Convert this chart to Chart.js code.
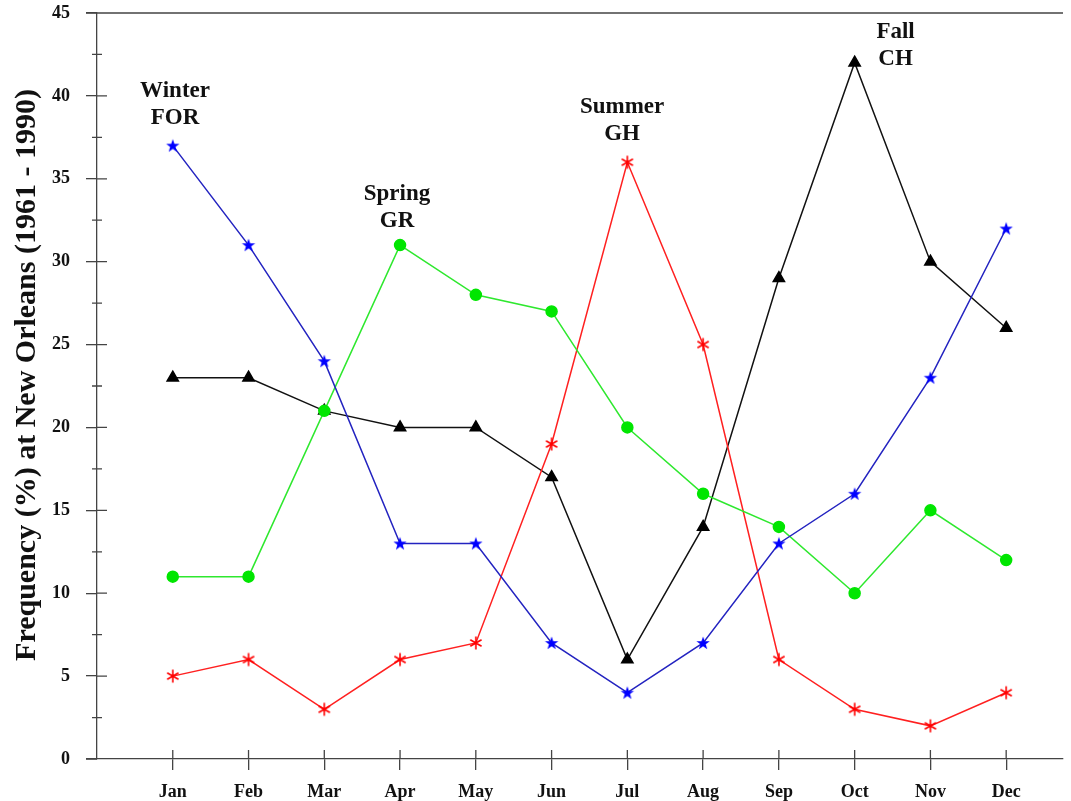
<!DOCTYPE html>
<html>
<head>
<meta charset="utf-8">
<script src="https://cdn.jsdelivr.net/npm/chart.js@4"></script>
<style>
  html, body { margin: 0; padding: 0; background: #fff; }
  #wrap { width: 1071px; height: 801px; }
</style>
</head>
<body>
<div id="wrap"><canvas id="c" width="1071" height="801"></canvas></div>
<script>
// dati
const months = ['Jan', 'Feb', 'Mar', 'Apr', 'May', 'Jun', 'Jul', 'Aug', 'Sep', 'Oct', 'Nov', 'Dec'];
const winterFOR = [37, 31, 24, 13, 13, 7, 4, 7, 13, 16, 23, 32];
const springGR = [11, 11, 21, 31, 28, 27, 20, 16, 14, 10, 15, 12];
const summerGH = [5, 6, 3, 6, 7, 19, 36, 25, 6, 3, 2, 4];
const fallCH = [23, 23, 21, 20, 20, 17, 6, 14, 29, 42, 30, 26];
const yTicks = [0, 5, 10, 15, 20, 25, 30, 35, 40, 45];
const yTitle = 'Frequency (%) at New Orleans (1961 - 1990)';

// etichette delle stagioni: [riga1, riga2, mese (x), valore (y)]
const seasonLabels = [
  ['Winter', 'FOR', 1.03, 40.3],
  ['Spring', 'GR', 3.96, 34.1],
  ['Summer', 'GH', 6.93, 39.3],
  ['Fall', 'CH', 10.54, 43.85]
];

const SERIF = '"Liberation Serif", "DejaVu Serif", serif';
const AXIS_COLOR = '#444';

// marcatori disegnati a mano
function starMarker(color) {
  const cv = document.createElement('canvas');
  cv.width = 16; cv.height = 16;
  const g = cv.getContext('2d');
  g.fillStyle = color;
  g.beginPath();
  for (let i = 0; i < 10; i++) {
    const r = i % 2 === 0 ? 7 : 2.8;
    const a = -Math.PI / 2 + i * Math.PI / 5;
    const px = 8 + r * Math.cos(a), py = 8.5 + r * Math.sin(a);
    if (i === 0) g.moveTo(px, py); else g.lineTo(px, py);
  }
  g.closePath();
  g.fill();
  return cv;
}

function asteriskMarker(color) {
  const cv = document.createElement('canvas');
  cv.width = 16; cv.height = 16;
  const g = cv.getContext('2d');
  g.strokeStyle = color;
  g.lineWidth = 1.6;
  g.beginPath();
  const r = 6.5;
  [90, 30, 150].forEach(d => {
    const a = d * Math.PI / 180;
    g.moveTo(8 - r * Math.cos(a), 8 - r * Math.sin(a));
    g.lineTo(8 + r * Math.cos(a), 8 + r * Math.sin(a));
  });
  g.stroke();
  return cv;
}

const toXY = arr => arr.map((v, i) => ({ x: i + 1, y: v }));

// assi, tacche, titolo asse y e etichette delle stagioni
const decorPlugin = {
  id: 'decor',
  afterDraw(chart) {
    const ctx = chart.ctx;
    const xs = chart.scales.x, ys = chart.scales.y;
    const area = chart.chartArea;
    ctx.save();
    ctx.strokeStyle = AXIS_COLOR;
    ctx.lineWidth = 1.3;
    ctx.beginPath();
    // linea in alto e prolungamento asse x a sinistra
    ctx.moveTo(area.left - 11, ys.getPixelForValue(45));
    ctx.lineTo(area.right, ys.getPixelForValue(45));
    ctx.moveTo(area.left - 11, ys.getPixelForValue(0));
    ctx.lineTo(area.left, ys.getPixelForValue(0));
    // parte interna delle tacche maggiori e tacche minori
    yTicks.forEach(v => {
      if (v === 0 || v === 45) return;
      const py = ys.getPixelForValue(v);
      ctx.moveTo(area.left, py);
      ctx.lineTo(area.left + 10, py);
    });
    for (let v = 2.5; v < 45; v += 5) {
      const py = ys.getPixelForValue(v);
      ctx.moveTo(area.left - 5, py);
      ctx.lineTo(area.left + 5, py);
    }
    months.forEach((m, i) => {
      const px = xs.getPixelForValue(i + 1);
      ctx.moveTo(px, area.bottom - 9);
      ctx.lineTo(px, area.bottom);
    });
    ctx.stroke();

    ctx.fillStyle = '#111';
    ctx.textAlign = 'center';
    ctx.textBaseline = 'middle';

    // titolo asse y (ruotato)
    ctx.save();
    ctx.translate(27, (area.top + area.bottom) / 2 - 11);
    ctx.rotate(-Math.PI / 2);
    ctx.font = 'bold 30px ' + SERIF;
    ctx.fillText(yTitle, 0, 0);
    ctx.restore();

    ctx.font = 'bold 23px ' + SERIF;
    seasonLabels.forEach(([a, b, mx, vy]) => {
      const px = xs.getPixelForValue(mx);
      const py = ys.getPixelForValue(vy);
      ctx.fillText(a, px, py);
      ctx.fillText(b, px, py + 27);
    });
    ctx.restore();
  }
};

const lineDefaults = {
  borderWidth: 1.5,
  pointRadius: 6,
  pointHoverRadius: 6,
  tension: 0,
  fill: false
};

new Chart(document.getElementById('c'), {
  type: 'line',
  data: {
    datasets: [
      Object.assign({
        label: 'Winter FOR',
        data: toXY(winterFOR),
        borderColor: '#2323c0',
        pointStyle: starMarker('#0000ff')
      }, lineDefaults),
      Object.assign({
        label: 'Spring GR',
        data: toXY(springGR),
        borderColor: '#2ee82e',
        backgroundColor: '#00e600',
        pointBorderColor: '#00e600',
        pointStyle: 'circle'
      }, lineDefaults, { pointRadius: 5.5 }),
      Object.assign({
        label: 'Summer GH',
        data: toXY(summerGH),
        borderColor: '#ff2020',
        pointStyle: asteriskMarker('#ff0000')
      }, lineDefaults),
      Object.assign({
        label: 'Fall CH',
        data: toXY(fallCH),
        borderColor: '#111',
        backgroundColor: '#000',
        pointBorderColor: '#000',
        pointStyle: 'triangle'
      }, lineDefaults, { pointRadius: 6.5 })
    ]
  },
  options: {
    responsive: false,
    animation: false,
    events: [],
    layout: { padding: 0 },
    plugins: {
      legend: { display: false },
      tooltip: { enabled: false },
      title: { display: false }
    },
    scales: {
      x: {
        type: 'linear',
        min: 0,
        max: 12.75,
        afterFit: s => { s.height = 42; },
        afterBuildTicks: s => {
          s.ticks = months.map((m, i) => ({ value: i + 1 }));
        },
        ticks: {
          autoSkip: false,
          maxRotation: 0,
          padding: 12,
          color: '#111',
          font: { family: SERIF, size: 18, weight: 'bold' },
          callback: v => months[v - 1] || ''
        },
        grid: {
          drawOnChartArea: false,
          tickLength: 11,
          color: AXIS_COLOR,
          lineWidth: 1.3
        },
        border: { color: AXIS_COLOR, width: 1.3 }
      },
      y: {
        min: 0,
        max: 45,
        afterFit: s => {
          s.width = 97;
          s.paddingTop = 13;
          s.paddingBottom = 0;
        },
        afterBuildTicks: s => {
          s.ticks = yTicks.map(v => ({ value: v }));
        },
        ticks: {
          padding: 16,
          color: '#111',
          font: { family: SERIF, size: 18, weight: 'bold' }
        },
        grid: {
          drawOnChartArea: false,
          tickLength: 11,
          color: AXIS_COLOR,
          lineWidth: 1.3
        },
        border: { color: AXIS_COLOR, width: 1.3 },
        title: { display: false }
      }
    }
  },
  plugins: [decorPlugin]
});
</script>
</body>
</html>
